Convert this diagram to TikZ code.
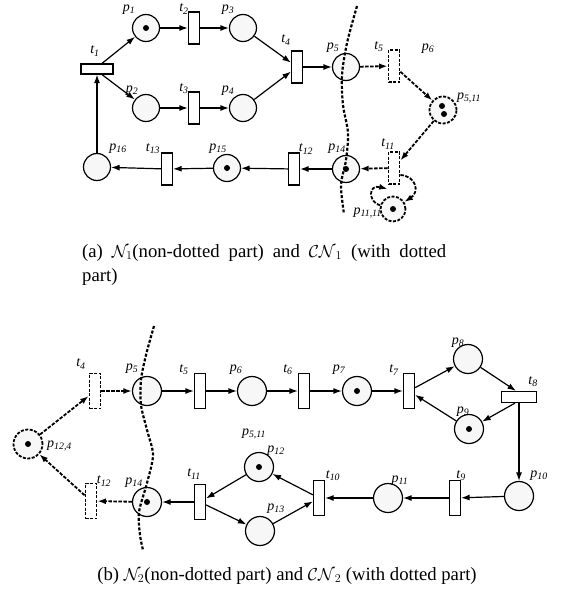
\documentclass[tikz,border=0pt]{standalone}
\usepackage{fontspec}
\setmainfont{Liberation Serif}
\usetikzlibrary{arrows.meta}

% place/transition label: letter with an italic subscript
\newcommand\pnlbl[2]{\textit{#1\textsubscript{#2}}}

\begin{document}
\begin{tikzpicture}[x=1pt,y=-1pt,
  place/.style={circle,draw,line width=1.2pt,fill=black!3,minimum size=27pt,inner sep=0pt},
  dplace/.style={place,line width=1.8pt,dash pattern=on 3pt off 1.5pt},
  trans/.style={rectangle,draw,line width=1.2pt,fill=white,minimum width=11pt,minimum height=32pt,inner sep=0pt},
  htrans/.style={trans,minimum width=32pt,minimum height=10pt},
  dtrans/.style={trans,line width=1.8pt,dash pattern=on 3pt off 1.5pt},
  pnarc/.style={line width=1.2pt,-{Latex[length=8.5pt,width=6pt]}},
  pndarc/.style={pnarc,line width=1.8pt,dash pattern=on 3.5pt off 1.5pt},
  cutline/.style={line width=2.2pt,dash pattern=on 3pt off 1.8pt},
  lab/.style={font=\fontsize{14}{14}\selectfont,inner sep=0pt},
  captext/.style={font=\fontsize{18.7}{23}\selectfont,inner sep=0pt}
]
\useasboundingbox (0,0) rectangle (560,605);

% ---------------- net (a) ----------------
\node[htrans] (t1) at (97,69) {};
\node[place] (p1) at (146,28) {};
\node[trans] (t2) at (194,28) {};
\node[place] (p3) at (243,28) {};
\node[place] (p2) at (146,108) {};
\node[trans] (t3) at (194,108) {};
\node[place] (p4) at (243,108) {};
\node[trans] (t4) at (297,67) {};
\node[place] (p5a) at (346,67) {};
\node[dtrans] (t5a) at (394,66) {};
\node[dplace] (p511a) at (443,110) {};
\node[dtrans] (t11a) at (394,168) {};
\node[dplace,minimum size=25pt] (p1111) at (393,209) {};
\node[place] (p14a) at (346,169) {};
\node[trans] (t12a) at (294,169) {};
\node[place] (p15) at (227,168) {};
\node[trans] (t13) at (167,169) {};
\node[place] (p16) at (97,167) {};

% tokens
\fill (p1.center) circle (3pt);
\fill ([shift={(-1,-4)}]p511a.center) circle (3pt);
\fill ([shift={(1,4)}]p511a.center) circle (3pt);
\fill (p1111.center) circle (3pt);
\fill (p14a.center) circle (3pt);
\fill (p15.center) circle (3pt);

% labels
\node[lab] (lp1) at (129,10) {\pnlbl{p}{1}};
\node[lab] (lt2) at (184,9) {\pnlbl{t}{2}};
\node[lab] (lp3) at (228,10) {\pnlbl{p}{3}};
\node[lab] (lt1) at (95,51) {\pnlbl{t}{1}};
\node[lab] (lp2) at (132,91) {\pnlbl{p}{2}};
\node[lab] (lt3) at (184,89) {\pnlbl{t}{3}};
\node[lab] (lp4) at (228,91) {\pnlbl{p}{4}};
\node[lab] (lt4) at (286,40) {\pnlbl{t}{4}};
\node[lab] (lp5a) at (333,48) {\pnlbl{p}{5}};
\node[lab] (lt5a) at (379,47) {\pnlbl{t}{5}};
\node[lab] (lp6a) at (428,49) {\pnlbl{p}{6}};
\node[lab] (lp511a) at (469,98) {\pnlbl{p}{5,11}};
\node[lab] (lt11a) at (388,144) {\pnlbl{t}{11}};
\node[lab] (lp14a) at (337,149) {\pnlbl{p}{14}};
\node[lab] (lt12a) at (306,149) {\pnlbl{t}{12}};
\node[lab] (lp15) at (218,149) {\pnlbl{p}{15}};
\node[lab] (lt13) at (153,149) {\pnlbl{t}{13}};
\node[lab] (lp16) at (118,149) {\pnlbl{p}{16}};
\node[lab,anchor=east] (lp1111) at (382,213) {\pnlbl{p}{11,11}};

% arcs
\draw[pnarc] ([xshift=5pt]t1.north) -- (p1);
\draw[pnarc] ([xshift=5pt]t1.south) -- (p2);
\draw[pnarc] (p16) -- (t1);
\draw[pnarc] (p1) -- (t2);
\draw[pnarc] (t2) -- (p3);
\draw[pnarc] (p3) -- (t4);
\draw[pnarc] (p2) -- (t3);
\draw[pnarc] (t3) -- (p4);
\draw[pnarc] (p4) -- (t4);
\draw[pnarc] (t4) -- (p5a);
\draw[pndarc] (p5a) -- (t5a);
\draw[pndarc] (t5a) -- (p511a);
\draw[pndarc] (p511a) -- (t11a);
\draw[pndarc] (t11a) -- (p14a);
\draw[pnarc] (p14a) -- (t12a);
\draw[pnarc] (t12a) -- (p15);
\draw[pnarc] (p15) -- (t13);
\draw[pnarc] (t13) -- (p16);
% self-loop between t11 and p11,11
\draw[pndarc] ([yshift=-7pt]t11a.east) .. controls (416,176) and (420,192) .. (p1111);
\draw[pndarc] (p1111) .. controls (368,202) and (368,184) .. ([yshift=-4pt]t11a.south west);

% cut
\draw[cutline] plot[smooth] coordinates {(357,6) (347,43) (342,75) (343,105) (348,133) (346,160) (341,185) (344,214)};

\node[captext,anchor=base west] (capa1) at (82,257) {\makebox[364pt][s]{(a) $\mathcal{N}_1$(non-dotted part) and $\mathcal{CN}_1$ (with dotted}};
\node[captext,anchor=base west] (capa2) at (82,281) {part)};

% ---------------- net (b) ----------------
\begin{scope}[place/.append style={minimum size=29pt},
              trans/.append style={minimum height=35pt}]
\node[dplace] (p124) at (28,444) {};
\node[dtrans] (t4b) at (95,391) {};
\node[place] (p5b) at (147,391) {};
\node[trans] (t5b) at (200,391) {};
\node[place] (p6b) at (252,391) {};
\node[trans] (t6b) at (304,391) {};
\node[place] (p7b) at (357,391) {};
\node[trans] (t7b) at (409,391) {};
\node[place] (p8b) at (468,359) {};
\node[htrans,minimum width=35pt,minimum height=11pt] (t8b) at (519,397) {};
\node[place] (p9b) at (469,429) {};
\node[place] (p10b) at (519,496) {};
\node[trans] (t9b) at (455,498) {};
\node[place] (p11b) at (388,498) {};
\node[trans] (t10b) at (319,498) {};
\node[place] (p12b) at (259,467) {};
\node[place] (p13b) at (260,531) {};
\node[trans] (t11b) at (200,502) {};
\node[place] (p14b) at (147,502) {};
\node[dtrans] (t12b) at (91,501) {};
\end{scope}

\fill (p124.center) circle (3pt);
\fill (p7b.center) circle (3pt);
\fill (p9b.center) circle (3pt);
\fill (p12b.center) circle (3pt);
\fill (p14b.center) circle (3pt);

\node[lab,anchor=west] (lp124) at (47,446) {\pnlbl{p}{12,4}};
\node[lab] (lt4b) at (81,364) {\pnlbl{t}{4}};
\node[lab] (lp5b) at (132,369) {\pnlbl{p}{5}};
\node[lab] (lt5b) at (184,370) {\pnlbl{t}{5}};
\node[lab] (lp6b) at (236,370) {\pnlbl{p}{6}};
\node[lab] (lt6b) at (288,370) {\pnlbl{t}{6}};
\node[lab] (lp7b) at (339,370) {\pnlbl{p}{7}};
\node[lab] (lt7b) at (394,370) {\pnlbl{t}{7}};
\node[lab] (lp8b) at (458,343) {\pnlbl{p}{8}};
\node[lab] (lt8b) at (533,382) {\pnlbl{t}{8}};
\node[lab] (lp9b) at (463,412) {\pnlbl{p}{9}};
\node[lab] (lp10b) at (539,476) {\pnlbl{p}{10}};
\node[lab] (lt9b) at (461,476) {\pnlbl{t}{9}};
\node[lab] (lp11b) at (400,481) {\pnlbl{p}{11}};
\node[lab] (lt10b) at (333,476) {\pnlbl{t}{10}};
\node[lab] (lp12b) at (276,451) {\pnlbl{p}{12}};
\node[lab] (lp511b) at (254,434) {\pnlbl{p}{5,11}};
\node[lab] (lp13b) at (276,509) {\pnlbl{p}{13}};
\node[lab] (lt11b) at (194,474) {\pnlbl{t}{11}};
\node[lab] (lp14b) at (134,483) {\pnlbl{p}{14}};
\node[lab] (lt12b) at (104,481) {\pnlbl{t}{12}};

\draw[pndarc] (p124) -- (t4b);
\draw[pndarc] (t4b) -- (p5b);
\draw[pnarc] (p5b) -- (t5b);
\draw[pnarc] (t5b) -- (p6b);
\draw[pnarc] (p6b) -- (t6b);
\draw[pnarc] (t6b) -- (p7b);
\draw[pnarc] (p7b) -- (t7b);
\draw[pnarc] (t7b) -- (p8b);
\draw[pnarc] (p8b) -- ([xshift=-3pt]t8b.north);
\draw[pnarc] ([xshift=-4pt]t8b.south) -- (p9b);
\draw[pnarc] (p9b) -- (t7b);
\draw[pnarc] (t8b) -- (p10b);
\draw[pnarc] (p10b) -- (t9b);
\draw[pnarc] (t9b) -- (p11b);
\draw[pnarc] (p11b) -- (t10b);
\draw[pnarc] (t10b) -- (p12b);
\draw[pnarc] (p12b) -- (t11b);
\draw[pnarc] (t11b) -- (p13b);
\draw[pnarc] (p13b) -- (t10b);
\draw[pnarc] (t11b) -- (p14b);
\draw[pndarc] (p14b) -- (t12b);
\draw[pndarc] (t12b) -- (p124);

\draw[cutline] plot[smooth] coordinates {(154,326) (146,355) (141,380) (141,405) (147,430) (153,455) (147,483) (139,512) (140,535) (143,550)};

\node[captext,anchor=base] (capb) at (287,580) {(b) $\mathcal{N}_2$(non-dotted part) and $\mathcal{CN}_2$ (with dotted part)};
\end{tikzpicture}
\end{document}
